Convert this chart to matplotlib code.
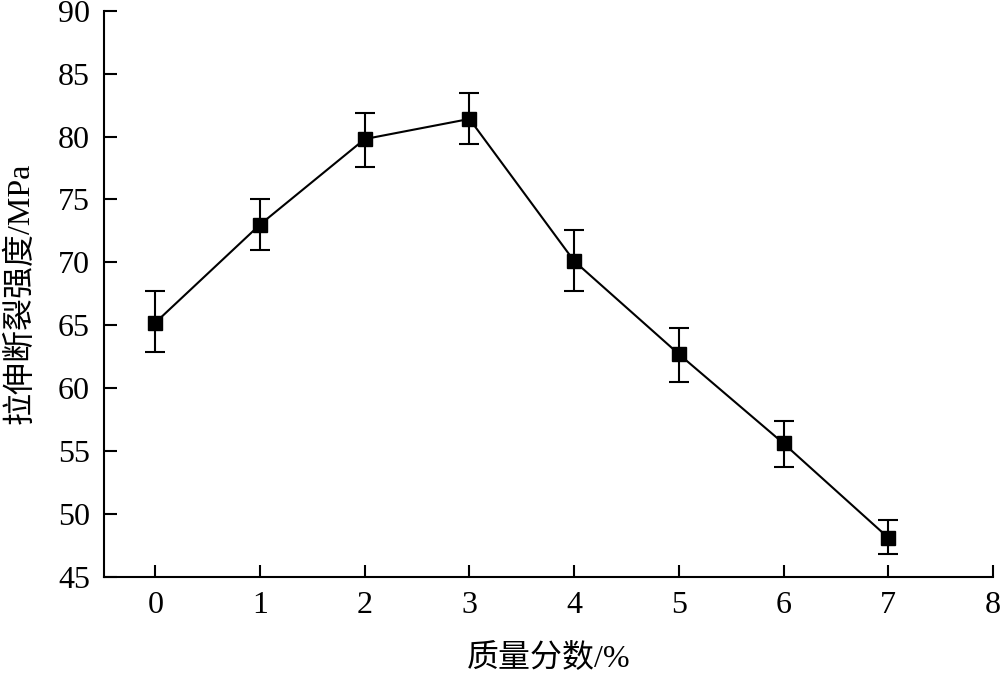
import matplotlib
matplotlib.use('Agg')
import matplotlib.pyplot as plt

# 质量分数 vs 拉伸断裂强度
mass_frac = [0, 1, 2, 3, 4, 5, 6, 7]
strength = [65.2, 73.0, 79.8, 81.4, 70.1, 62.7, 55.6, 48.1]
err_upper = [67.75, 75.0, 81.9, 83.5, 72.6, 64.8, 57.4, 49.5]
err_lower = [62.9, 71.0, 77.6, 79.4, 67.7, 60.5, 53.7, 46.8]

x_ticks = [0, 1, 2, 3, 4, 5, 6, 7, 8]
y_ticks = [45, 50, 55, 60, 65, 70, 75, 80, 85, 90]

plt.rcParams['font.family'] = ['Liberation Serif', 'Noto Sans CJK SC']

fig = plt.figure(figsize=(10, 6.73), dpi=100)
ax = fig.add_axes([0.104, 0.143, 0.889, 0.841])

yerr = [[s - lo for s, lo in zip(strength, err_lower)],
        [hi - s for s, hi in zip(strength, err_upper)]]
ax.errorbar(mass_frac, strength, yerr=yerr, color='black', lw=1.5,
            marker='s', ms=10, capsize=7, elinewidth=1.5, capthick=1.5)

ax.set_xlim(-0.49, 8)
ax.set_ylim(45, 90)
ax.set_xticks(x_ticks)
ax.set_yticks(y_ticks)
ax.spines['top'].set_visible(False)
ax.spines['right'].set_visible(False)
for s in ('left', 'bottom'):
    ax.spines[s].set_linewidth(1.5)
ax.tick_params(direction='in', length=9, width=1.5, labelsize=23, pad=10)

ax.set_xlabel('质量分数/%', fontsize=23, labelpad=17)
ax.set_ylabel('拉伸断裂强度/MPa', fontsize=23, labelpad=16)

fig.savefig('out.png', dpi=100)
